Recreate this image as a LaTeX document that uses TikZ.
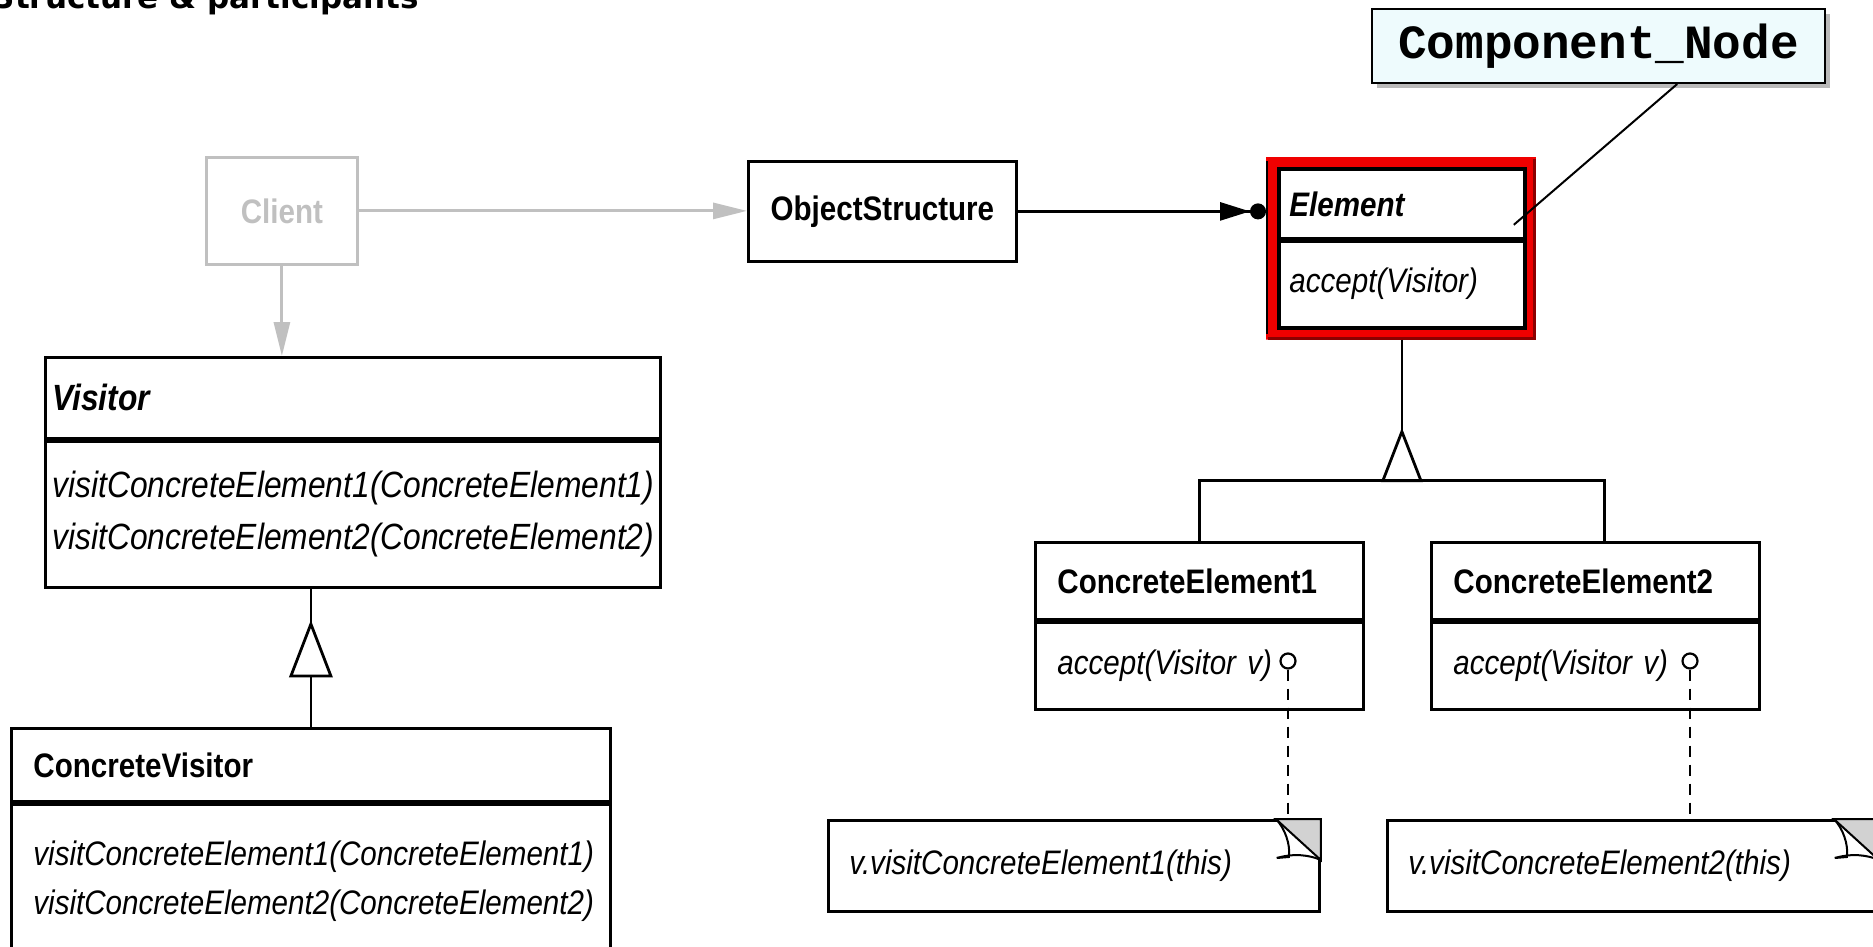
\documentclass[tikz,border=0pt]{standalone}
\usepackage{fontspec}
\setmainfont{Liberation Sans}[FakeStretch=0.87]
\newfontfamily\headfont{DejaVu Sans}
\newfontfamily\tagfont{Liberation Mono}
\usepackage{tikz}
\usetikzlibrary{calc,arrows.meta,shadows}
\definecolor{framered}{RGB}{240,0,0}
\definecolor{darkred}{RGB}{140,0,0}
\definecolor{clientgray}{RGB}{192,192,192}
\definecolor{tagfill}{RGB}{238,251,253}
\definecolor{foldgray}{RGB}{210,210,210}

\begin{document}
\begin{tikzpicture}[x=1pt,y=-1pt,line width=2.8pt,font=\fontsize{34}{49}\selectfont]
\tikzstyle{box}=[draw,rectangle,anchor=north west,inner sep=0pt,inner xsep=22pt,align=left]
\tikzstyle{bigbox}=[box,inner xsep=7pt,font=\fontsize{36.5}{52.5}\selectfont]
\tikzstyle{note}=[box,fill=white,inner xsep=21pt]
\tikzstyle{port}=[circle,draw,fill=white,inner sep=0pt,minimum size=15pt,line width=2.2pt]
\tikzstyle{link}=[dash pattern=on 11pt off 8pt]
\tikzstyle{grayarrow}=[clientgray,line width=3pt,-{Triangle[length=34pt,width=16pt]}]

\useasboundingbox (0,0) rectangle (1873,947);

\node[anchor=base west,font=\headfont\bfseries\fontsize{31}{36}\selectfont] (title) at (-12,9) {Structure \& participants};

% client and object structure
\node[box,draw=clientgray,text=clientgray,minimum width=151pt,minimum height=107pt,text width=107pt,align=center] (client) at (205,156) {\textbf{Client}};
\node[box,minimum width=268pt,minimum height=100pt,text width=224pt,align=center] (objs) at (747,160) {\textbf{ObjectStructure}};

% visitor side
\node[bigbox,minimum width=615pt,minimum height=81pt,text width=601pt] (visitor) at (44,356) {\textbf{\textit{Visitor}}};
\node[bigbox,minimum width=615pt,minimum height=146pt,text width=601pt] (visitorops) at (visitor.south west)
    {\textit{visitConcreteElement1(ConcreteElement1)}\\
     \textit{visitConcreteElement2(ConcreteElement2)}};
\node[box,minimum width=599pt,minimum height=73pt,text width=555pt] (cvisitor) at (10,727) {\textbf{ConcreteVisitor}};
\node[box,minimum width=599pt,minimum height=250pt] (cvisitorops) at (cvisitor.south west) {};
\node[anchor=north west,inner sep=0pt,align=left] (cvtext) at ($(cvisitorops.north west)+(22,37)$)
    {\textit{visitConcreteElement1(ConcreteElement1)}\\
     \textit{visitConcreteElement2(ConcreteElement2)}};

% element side
\node[box,inner xsep=10pt,minimum width=245pt,minimum height=69pt,text width=225pt] (elemhead) at (1278,168) {\textbf{\textit{Element}}};
\node[box,inner xsep=10pt,minimum width=245pt,minimum height=86pt,text width=225pt] (elemops) at (elemhead.south west) {\textit{accept(Visitor)}};
\node[box,minimum width=328pt,minimum height=77pt,text width=284pt] (ce1) at (1034,541) {\textbf{ConcreteElement1}};
\node[box,minimum width=328pt,minimum height=87pt,text width=284pt] (ce1ops) at (ce1.south west) {\textit{accept(Visitor v)}};
\node[box,minimum width=328pt,minimum height=77pt,text width=284pt] (ce2) at (1430,541) {\textbf{ConcreteElement2}};
\node[box,minimum width=328pt,minimum height=87pt,text width=284pt] (ce2ops) at (ce2.south west) {\textit{accept(Visitor v)}};
\node[port] (port1) at (1288,661) {};
\node[port] (port2) at (1690,661) {};

% notes
\node[note,minimum width=491pt,minimum height=91pt,text width=449pt] (note1) at (827,819) {\textit{v.visitConcreteElement1(this)}};
\node[note,minimum width=490pt,minimum height=91pt,text width=448pt] (note2) at (1386,819) {\textit{v.visitConcreteElement2(this)}};
\foreach \n in {note1,note2}{
    \coordinate (fa) at ($(\n.north east)+(-45,0)$);
    \coordinate (fb) at ($(\n.north east)+(0,41)$);
    \filldraw[fill=foldgray,line width=2pt] (fa) -- (\n.north east) -- (fb) -- cycle;
    \draw[line width=2pt] (fa) .. controls ($(fa)+(9,9)$) and ($(fa)+(15,26)$) .. ($(fa)+(13,38)$) -- ($(fa)+(1,39)$);
    \draw[line width=2pt] ($(fa)+(1,39)$) .. controls ($(fa)+(18,34)$) and ($(fa)+(34,36)$) .. (fb);
}

% connectors
\draw[grayarrow] (client.east) -- (client.east -| objs.west);
\draw[grayarrow] (client.south) -- (client.south |- visitor.north);
\draw[-{Triangle[length=30pt,width=18pt]Circle[length=16pt]},shorten >=12pt] (objs.east) -- (objs.east -| elemhead.west);
\draw[link] (port1.south) -- (port1 |- note1.north);
\draw[link] (port2.south) -- (port2 |- note2.north);

% inheritance visitor
\draw (cvisitor.north) -- ++(0,-51) coordinate (vbase);
\draw[fill=white] ($(vbase)+(-20,0)$) -- ($(vbase)+(20,0)$) -- ($(vbase)+(0,-52)$) coordinate (vtip) -- cycle;
\draw (vtip) -- (vtip |- visitorops.south);

% red frame round Element
\coordinate (eNW) at ($(elemhead.north west)+(-12,-11)$);
\coordinate (eSE) at ($(elemops.south east)+(10,11)$);
\fill[framered,even odd rule] (eNW) rectangle (eSE) (elemhead.north west) rectangle (elemops.south east);
\draw[darkred,line width=3pt] ($(eNW |- eSE)+(1.5,-1.5)$) -- ($(eSE)+(-1.5,-1.5)$) -- ($(eSE |- eNW)+(-1.5,1.5)$);
\draw[line width=2pt] ($(eNW)+(1,4)$) -- ($(eNW |- eSE)+(1,-6)$);
\draw[line width=2pt] (elemhead.north west) rectangle (elemops.south east);
\draw[line width=2pt] (elemhead.south west) -- (elemhead.south east);

% inheritance element
\path (elemops.south) ++(0,103) coordinate (etip);
\draw (elemops.south |- eSE) -- (etip);
\draw[fill=white] (etip) -- ++(-19,49) coordinate (ebase) -- ++(38,0) -- cycle;
\draw (ce1.north) |- ($(ce2.north |- ebase)+(9,0)$) -- ($(ce2.north)+(9,0)$);

% label
\node[draw,fill=tagfill,line width=2pt,anchor=north west,minimum width=453pt,minimum height=74pt,inner sep=0pt,
      drop shadow={shadow xshift=5pt,shadow yshift=-5pt,fill=black!45,opacity=0.6},
      font=\tagfont\bfseries\fontsize{47.7}{50}\selectfont] (tag) at (1371,8) {Component\_Node};
\draw[line width=2pt] ($(tag.south west)!0.673!(tag.south east)$) -- ($(elemhead.south east)+(-12,-15)$);

\end{tikzpicture}
\end{document}
